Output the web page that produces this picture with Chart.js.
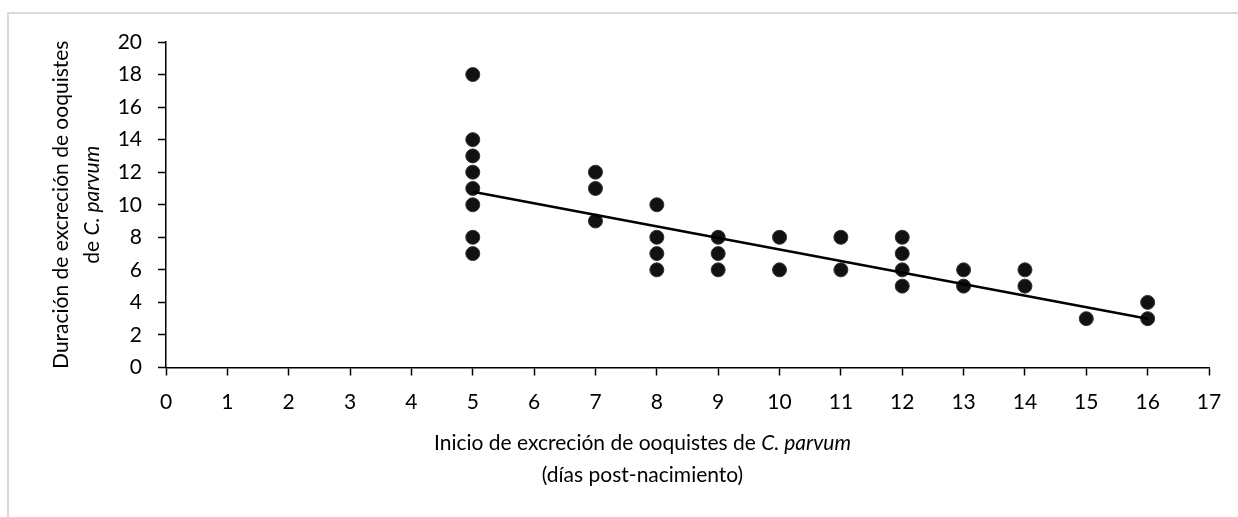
<!DOCTYPE html>
<html>
<head>
<meta charset="utf-8">
<script src="https://cdn.jsdelivr.net/npm/chart.js@4"></script>
<style>
  html, body { margin: 0; padding: 0; background: #fff; }
  #wrap { position: relative; width: 1238px; height: 517px; }
</style>
</head>
<body>
<div id="wrap"><canvas id="scatterPlot"></canvas></div>
<script>
// onset of shedding (x) and duration of shedding (y), one entry per calf
const onsetDays = [5, 5, 5, 5, 5, 5, 5, 5, 7, 7, 7, 8, 8, 8, 8, 9, 9, 9, 10, 10, 11, 11, 12, 12, 12, 12, 13, 13, 14, 14, 15, 16, 16];
const durationDays = [18, 14, 13, 12, 11, 10, 8, 7, 12, 11, 9, 10, 8, 7, 6, 8, 7, 6, 8, 6, 8, 6, 8, 7, 6, 5, 6, 5, 6, 5, 3, 4, 3];

// linear trend line, end points
const trendX = [5, 16];
const trendY = [10.8, 3.0];

const xTitle = [[['Inicio de excreción de ooquistes de ', false], ['C. parvum', true]], [['(días post-nacimiento)', false]]];
const yTitle = [[['Duración de excreción de ooquistes', false]], [['de ', false], ['C. parvum', true]]];

const FONT = 'Lato';
const FONT_SIZE = 21;

function drawRichLine(ctx, parts, cx, cy) {
  let total = 0;
  parts.forEach(p => {
    ctx.font = (p[1] ? 'italic ' : '') + FONT_SIZE + 'px ' + FONT;
    total += ctx.measureText(p[0]).width;
  });
  let x = cx - total / 2;
  parts.forEach(p => {
    ctx.font = (p[1] ? 'italic ' : '') + FONT_SIZE + 'px ' + FONT;
    ctx.fillText(p[0], x, cy);
    x += ctx.measureText(p[0]).width;
  });
}

const titlesPlugin = {
  id: 'titles',
  beforeDraw(chart) {
    // light frame, only top and left edges show in the crop
    const ctx = chart.ctx;
    ctx.save();
    ctx.strokeStyle = '#d9d9d9';
    ctx.lineWidth = 2;
    ctx.beginPath();
    ctx.moveTo(8, 517);
    ctx.lineTo(8, 13);
    ctx.lineTo(1238, 13);
    ctx.stroke();
    ctx.restore();
  },
  afterDraw(chart) {
    const ctx = chart.ctx;
    const area = chart.chartArea;
    ctx.save();
    ctx.fillStyle = '#000';
    ctx.textAlign = 'left';
    ctx.textBaseline = 'middle';
    const cx = (area.left + area.right) / 2 - 45;
    drawRichLine(ctx, xTitle[0], cx, area.bottom + 76);
    drawRichLine(ctx, xTitle[1], cx, area.bottom + 108);

    const cy = (area.top + area.bottom) / 2;
    ctx.translate(0, cy);
    ctx.rotate(-Math.PI / 2);
    drawRichLine(ctx, yTitle[0], 0, 61);
    drawRichLine(ctx, yTitle[1], 0, 92);
    ctx.restore();
  }
};

const ChartConfig = {
  type: 'scatter',
  data: {
    datasets: [{
      label: 'Tendencia',
      type: 'line',
      data: trendX.map((x, i) => ({ x: x, y: trendY[i] })),
      borderColor: '#000',
      borderWidth: 2.5,
      pointRadius: 0,
      showLine: true,
      order: 0
    }, {
      label: 'Datos',
      data: onsetDays.map((x, i) => ({ x: x, y: durationDays[i] })),
      backgroundColor: '#111',
      borderColor: '#333',
      borderWidth: 1,
      pointRadius: 7,
      order: 1
    }]
  },
  options: {
    responsive: true,
    maintainAspectRatio: false,
    animation: false,
    layout: { padding: { left: 0, right: 29, top: 42, bottom: 0 } },
    plugins: {
      legend: { display: false },
      tooltip: { enabled: false }
    },
    scales: {
      x: {
        type: 'linear',
        min: 0,
        max: 17,
        afterFit: scale => { scale.height = 149.5; },
        grid: { display: true, drawOnChartArea: false, drawTicks: true, tickLength: 8, tickWidth: 1.5, tickColor: '#000' },
        border: { color: '#000', width: 1.5 },
        ticks: { stepSize: 1, color: '#000', padding: 14, font: { family: FONT, size: FONT_SIZE } }
      },
      y: {
        min: 0,
        max: 20,
        afterFit: scale => { scale.width = 166; },
        grid: { display: true, drawOnChartArea: false, drawTicks: true, tickLength: 8, tickWidth: 1.5, tickColor: '#000' },
        border: { color: '#000', width: 1.5 },
        ticks: { stepSize: 2, color: '#000', padding: 16, font: { family: FONT, size: FONT_SIZE } }
      }
    }
  },
  plugins: [titlesPlugin]
};

new Chart(document.getElementById('scatterPlot').getContext('2d'), ChartConfig);
</script>
</body>
</html>
